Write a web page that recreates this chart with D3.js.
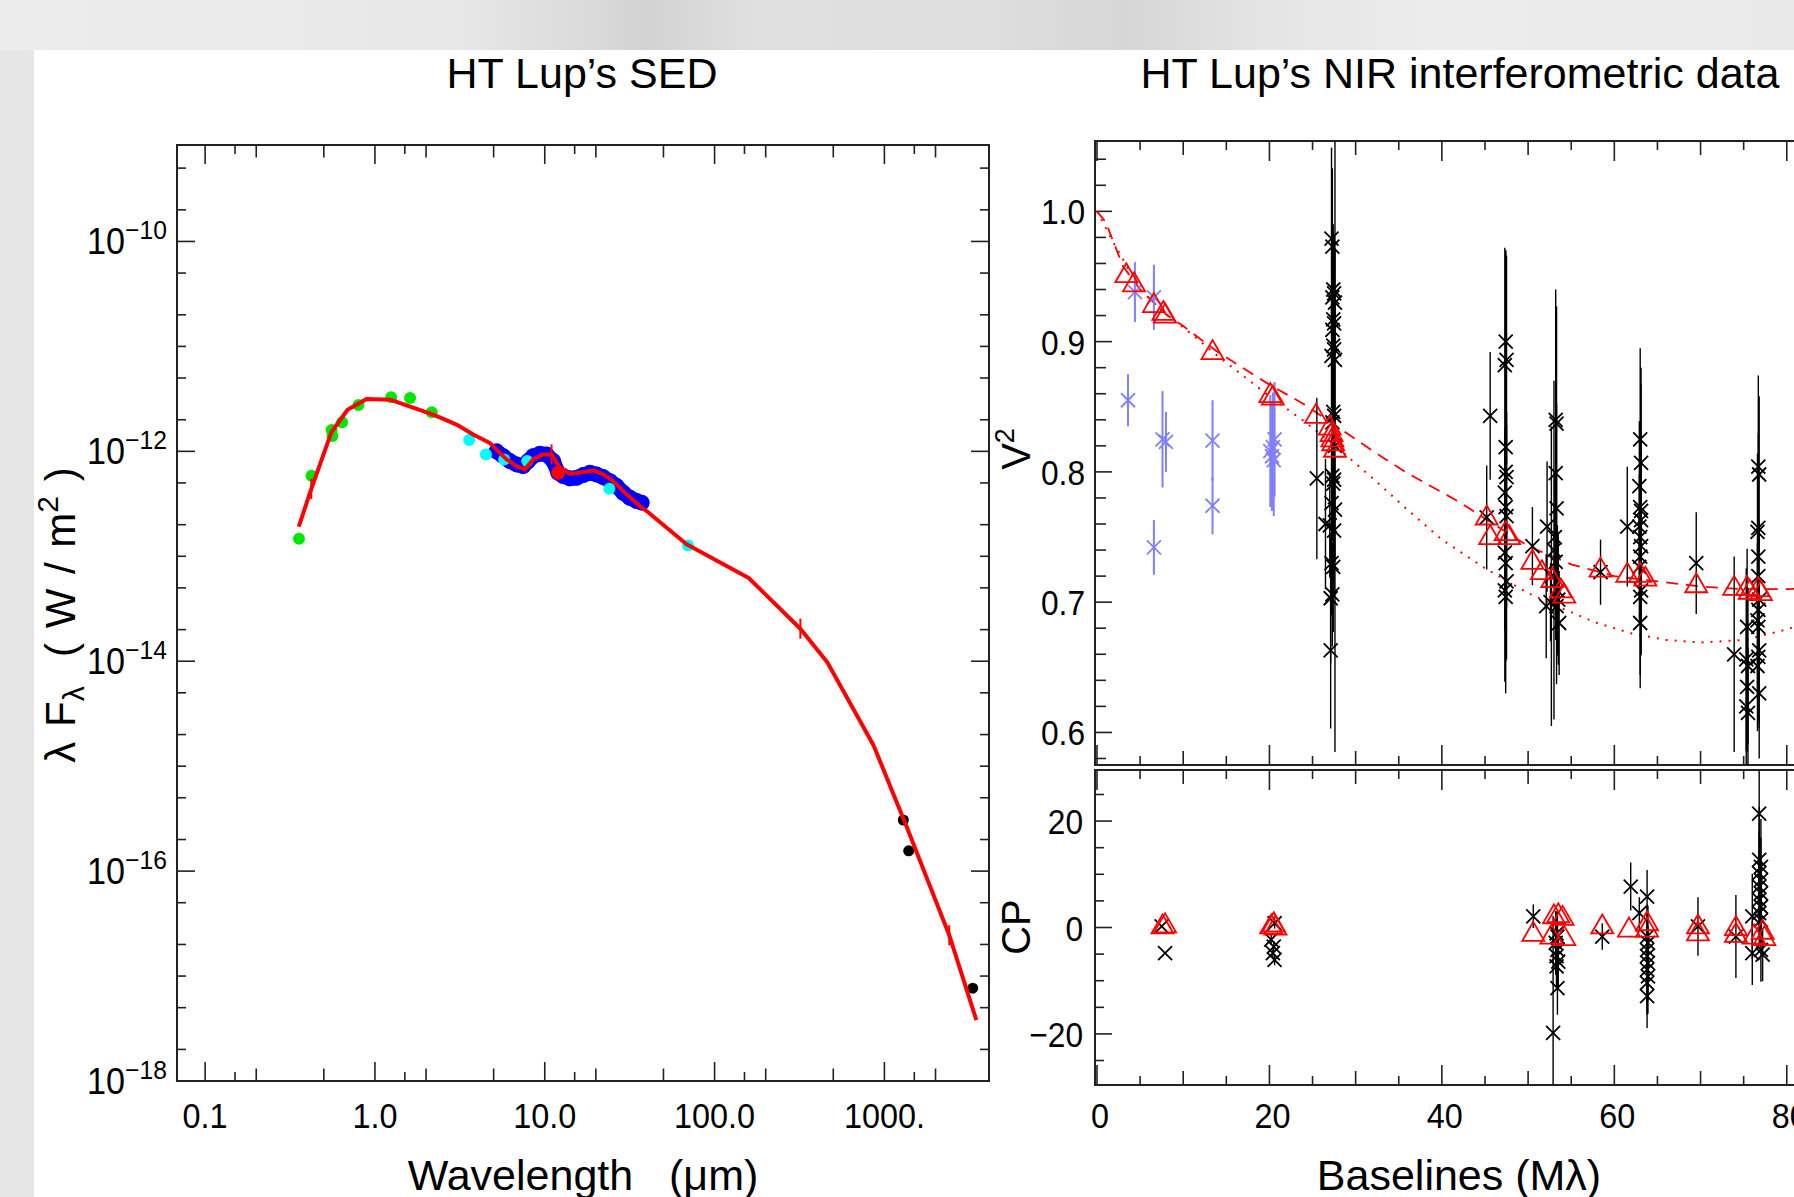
<!DOCTYPE html>
<html>
<head>
<meta charset="utf-8">
<script src="https://cdn.jsdelivr.net/npm/d3@7"></script>
<style>
  html, body { margin: 0; padding: 0; background: #e5e5e5; overflow: hidden; }
  svg { display: block; }
  svg text { font-family: "Liberation Sans", Arial, Helvetica, sans-serif; fill: #000; white-space: pre; }
</style>
</head>
<body>
<svg id="fig" width="1794" height="1197"></svg>
<script>
// ---------------- SED data (wavelength in micron, lambda*F_lambda in W/m^2) ----------------
const modelLam  = [0.356, 0.422, 0.555, 0.690, 0.893, 1.24, 2.16, 2.41, 3.02, 3.79, 4.75, 5.08, 5.96, 6.82, 7.64, 8.55, 9.79, 10.96, 12.27, 14.06, 16.11, 19.28, 22.08, 25.3, 30.3, 36.3, 39.8, 68.4, 158.9, 320, 461, 863, 1340, 2410, 3480];
const modelFlux = [1.92e-13, 4.38e-13, 1.53e-12, 2.49e-12, 3.15e-12, 3.10e-12, 2.26e-12, 2.11e-12, 1.80e-12, 1.45e-12, 1.20e-12, 1.08e-12, 8.38e-13, 7.23e-13, 6.73e-13, 8.38e-13, 9.35e-13, 9.35e-13, 6.97e-13, 6.11e-13, 6.25e-13, 6.58e-13, 6.03e-13, 5.20e-13, 3.89e-13, 3.01e-13, 2.70e-13, 1.30e-13, 6.21e-14, 2.04e-14, 9.77e-15, 1.58e-15, 2.75e-16, 2.45e-17, 3.80e-18];
const modelErrLam  = [0.422, 10.96, 320, 2410];
const modelErrFlux = [4.38e-13, 9.35e-13, 2.04e-14, 2.45e-17];
const greenLam  = [0.357, 0.423, 0.555, 0.562, 0.641, 0.80, 1.245, 1.61, 2.16];
const greenFlux = [1.47e-13, 5.86e-13, 1.60e-12, 1.40e-12, 1.89e-12, 2.76e-12, 3.28e-12, 3.22e-12, 2.36e-12];
const cyanLam  = [3.59, 4.50, 5.77, 7.89, 24.0, 69.8];
const cyanFlux = [1.28e-12, 9.33e-13, 8.38e-13, 8.07e-13, 4.40e-13, 1.27e-13];
const irsLam  = [5.20, 5.69, 6.23, 6.82, 7.46, 7.98, 8.54, 9.36, 10.25, 11.21, 12.0, 12.84, 14.05, 15.39, 16.83, 18.44, 20.18, 22.07, 24.2, 26.5, 28.96, 31.7, 34.7, 37.2];
const irsFlux = [1.00e-12, 8.99e-13, 8.07e-13, 7.50e-13, 7.23e-13, 8.07e-13, 8.99e-13, 9.46e-13, 9.33e-13, 8.07e-13, 6.24e-13, 5.81e-13, 5.52e-13, 5.60e-13, 5.94e-13, 6.24e-13, 6.03e-13, 5.68e-13, 5.20e-13, 4.67e-13, 4.03e-13, 3.61e-13, 3.36e-13, 3.24e-13];
const redDotLam = [12.0];
const redDotFlux = [6.24e-13];
const mmLam  = [1292, 1390, 3311];
const mmFlux = [3.07e-16, 1.56e-16, 7.67e-18];

const xTickVals = [0.1, 1, 10, 100, 1000];
const xTickLabels = ["0.1", "1.0", "10.0", "100.0", "1000."];
const yTickVals = [1e-18, 1e-16, 1e-14, 1e-12, 1e-10];
const yTickExp = ["\u221218", "\u221216", "\u221214", "\u221212", "\u221210"];

// ---------------- interferometry data: [baseline (Mlambda), value, error] ----------------
const v2Black = [
  [25.5,0.795,0.062],[26.5,0.760,0.050],
  [27.2,0.979,0.070],[27.3,0.973,0.060],[27.4,0.940,0.050],[27.5,0.937,0.045],[27.3,0.934,0.050],[27.6,0.930,0.040],
  [27.4,0.917,0.050],[27.5,0.914,0.040],[27.3,0.909,0.045],[27.4,0.897,0.050],[27.5,0.894,0.040],[27.2,0.889,0.040],[27.6,0.886,0.050],
  [27.4,0.846,0.060],[27.5,0.843,0.050],[27.3,0.838,0.040],[27.3,0.797,0.050],[27.5,0.794,0.060],[27.4,0.791,0.040],
  [27.2,0.776,0.050],[27.6,0.771,0.040],[27.0,0.759,0.040],[27.5,0.755,0.050],[27.2,0.730,0.040],[27.4,0.727,0.050],
  [27.3,0.706,0.040],[27.1,0.703,0.050],[27.1,0.663,0.060],[27.6,0.820,0.235],
  [45.6,0.843,0.049],[45.2,0.765,0.040],
  [47.4,0.900,0.070],[47.5,0.886,0.080],[47.3,0.882,0.090],[47.4,0.819,0.100],[47.5,0.796,0.050],[47.3,0.784,0.050],[47.4,0.773,0.060],
  [47.5,0.766,0.070],[47.3,0.738,0.060],[47.4,0.730,0.050],[47.5,0.716,0.060],[47.3,0.709,0.070],[47.4,0.704,0.050],[47.4,0.800,0.170],
  [50.5,0.743,0.030],[52.1,0.697,0.040],[52.6,0.700,0.030],[52.2,0.758,0.050],
  [53.2,0.840,0.100],[53.3,0.837,0.090],[53.2,0.799,0.060],[53.3,0.772,0.080],[53.1,0.750,0.050],[53.2,0.731,0.060],
  [53.4,0.709,0.050],[53.5,0.702,0.050],[53.3,0.697,0.060],[53.6,0.684,0.040],[52.7,0.720,0.115],[53.0,0.740,0.130],
  [58.4,0.723,0.025],[61.5,0.758,0.046],
  [63.0,0.825,0.070],[63.1,0.807,0.060],[62.9,0.789,0.050],[63.0,0.773,0.050],[63.1,0.763,0.060],[62.9,0.758,0.040],[63.0,0.750,0.050],
  [63.1,0.743,0.060],[63.0,0.735,0.050],[62.9,0.727,0.040],[63.1,0.709,0.050],[63.0,0.704,0.060],[63.0,0.684,0.050],[63.1,0.770,0.110],
  [69.5,0.730,0.039],[73.9,0.660,0.075],
  [75.4,0.681,0.060],[75.3,0.656,0.070],[75.5,0.651,0.060],[75.4,0.635,0.050],[75.3,0.620,0.060],[75.5,0.615,0.050],
  [76.7,0.804,0.070],[76.8,0.798,0.060],[76.7,0.757,0.050],[76.6,0.754,0.060],[76.7,0.735,0.050],[76.8,0.702,0.060],[76.7,0.694,0.050],
  [76.6,0.686,0.060],[76.7,0.681,0.050],[76.8,0.663,0.060],[76.7,0.658,0.050],[76.6,0.651,0.050],[76.8,0.630,0.050],[76.7,0.720,0.110]
];
const v2Blue = [
  [3.6,0.855,0.020],[4.4,0.938,0.023],[6.6,0.934,0.025],[6.6,0.742,0.021],[7.6,0.825,0.037],[8.0,0.823,0.023],
  [13.4,0.824,0.031],[13.4,0.774,0.022],[20.1,0.816,0.043],[20.3,0.812,0.042],[20.5,0.809,0.043],[20.6,0.825,0.044],[20.4,0.819,0.042]
];
const v2Model = [
  [3.4,0.951],[4.3,0.944],[6.6,0.928],[7.7,0.922],[7.9,0.920],[13.4,0.892],[20.1,0.859],[20.4,0.857],[25.4,0.843],
  [27.0,0.834],[27.2,0.829],[27.3,0.825],[27.4,0.822],[27.6,0.817],[45.2,0.765],[45.6,0.750],[47.4,0.753],[47.8,0.750],
  [50.5,0.731],[51.6,0.723],[52.8,0.717],[53.8,0.709],[54.2,0.705],[58.4,0.725],[61.5,0.721],[63.0,0.721],[63.6,0.718],
  [69.5,0.713],[73.9,0.711],[75.4,0.711],[75.7,0.708],[76.7,0.710],[77.0,0.707]
];
const v2CurveDashed = [[0,1.0],[1,0.992],[2,0.975],[3,0.958],[5,0.940],[8,0.921],[10,0.912],[14,0.892],[20,0.867],[24,0.852],[28,0.834],[32,0.816],[36,0.799],[42,0.777],[46,0.760],[50,0.743],[55,0.729],[60,0.720],[65,0.716],[70,0.712],[75,0.710],[80,0.710],[90,0.712]];
const v2CurveDotted = [[0,1.0],[2,0.975],[5,0.940],[8,0.921],[10,0.911],[14,0.889],[20,0.858],[24,0.839],[28,0.818],[32,0.795],[36,0.771],[40,0.748],[45,0.726],[50,0.707],[54,0.695],[58,0.684],[62,0.676],[66,0.671],[70,0.669],[75,0.671],[80,0.679],[85,0.690]];
const cpModel = [
  [7.6,0.2],[7.9,0.4],[20.2,0.2],[20.5,0.6],[20.7,0.0],[50.6,-1.2],[52.7,-1.7],[53.0,2.1],[53.5,2.3],[54.0,1.8],[54.2,-2.0],
  [58.6,0.2],[61.7,-0.4],[63.8,0.8],[63.8,-0.4],[69.7,0.2],[69.7,-1.1],[74.1,-0.1],[74.1,-1.4],[76.2,-1.7],[77.2,-0.8],[77.4,-2.0]
];
const cpBlack = [
  [7.5,0.2,0],[7.9,-4.8,0],[20.6,0.8,1],[20.2,-2.3,1],[20.5,-3.6,1],[20.4,-4.8,1],[20.6,-6.1,1],
  [50.6,2.1,2.2],[52.9,-19.8,22],[53.3,-1.1,4],[53.4,-1.7,5],[53.2,-2.9,6],[53.4,-4.2,5],[53.3,-5.4,6],[53.5,-6.4,5],[53.3,-7.3,4],[53.4,-11.4,5],
  [58.6,-1.7,2.5],[61.9,7.7,4.5],[62.9,2.7,3],
  [63.8,5.8,5],[63.8,-1.7,6],[63.9,-2.9,7],[63.8,-4.2,7],[63.8,-5.4,8],[63.9,-6.7,7],[63.8,-7.9,8],[63.9,-9.2,7],[63.8,-10.4,6],[63.8,-12.9,6],
  [69.7,0.2,5.5],[74.1,-1.7,7.8],[76.0,2.1,8],[76.0,-4.8,6],
  [76.8,21.4,12],[76.8,12.7,10],[77.0,11.4,9],[76.8,10.2,8],[77.0,8.9,8],[76.8,7.7,7],[77.0,6.4,6],[76.8,5.2,7],[77.0,3.9,6],[76.8,2.7,6],[77.0,1.4,5],[77.0,-4.2,6],[77.2,-5.1,5]
];
const v2TickLabels = ["0.6", "0.7", "0.8", "0.9", "1.0"];
const cpTickVals = [-20, 0, 20];
const cpTickLabels = ["\u221220", "0", "20"];
const bTickVals = [0, 20, 40, 60, 80];

// ---------------- page set-up ----------------
const svg = d3.select("#fig");
const ink = "#222";
const defs = svg.append("defs");

const bg = defs.append("linearGradient").attr("id", "bgTop");
[[0, "#ececec"], [0.25, "#e8e8e8"], [0.33, "#dadada"], [0.36, "#d2d2d2"], [0.42, "#e0e0e0"], [0.55, "#dedede"],
 [0.63, "#d6d6d6"], [0.7, "#e4e4e4"], [0.8, "#ececec"], [1, "#e9e9e9"]]
  .forEach(s => bg.append("stop").attr("offset", s[0]).attr("stop-color", s[1]));
svg.append("rect").attr("width", 1794).attr("height", 1197).attr("fill", "#e6e6e6");
svg.append("rect").attr("width", 1794).attr("height", 50).attr("fill", "url(#bgTop)");
svg.append("rect").attr("x", 34).attr("y", 50).attr("width", 1760).attr("height", 1147).attr("fill", "#fff");

function clip(id, x, y, w, h) {
  defs.append("clipPath").attr("id", id).append("rect").attr("x", x).attr("y", y).attr("width", w).attr("height", h);
}
function tick(g, x1, y1, x2, y2) {
  g.append("line").attr("x1", x1).attr("y1", y1).attr("x2", x2).attr("y2", y2)
    .attr("stroke", ink).attr("stroke-width", 1.6);
}
function label(x, y, str, size, anchor, sx) {
  return svg.append("text").attr("transform", `translate(${x},${y}) scale(${sx},1)`)
    .attr("text-anchor", anchor).attr("font-size", size).text(str);
}

// ---------------- left panel : SED ----------------
const sed = {left: 177, right: 989, top: 145, bottom: 1081};
const xSed = d3.scaleLog().domain([0.0683, 4130]).range([sed.left, sed.right]);
const ySed = d3.scaleLog().domain([1e-18, 8.3e-10]).range([sed.bottom, sed.top]);
clip("clipSed", sed.left, sed.top, sed.right - sed.left, sed.bottom - sed.top);

const sedAxes = svg.append("g");
const xMinor = [];
xTickVals.forEach(d => [1.5, 2, 5].forEach(m => { if (d * m < 4130) xMinor.push([d * m, m === 1.5 ? 9 : 12.5]); }));
xTickVals.forEach(d => xMinor.push([d, 19]));
xMinor.forEach(([v, len]) => {
  const x = xSed(v);
  tick(sedAxes, x, sed.bottom, x, sed.bottom - len);
  tick(sedAxes, x, sed.top, x, sed.top + len);
});
const yMinor = [];
for (let e = -18; e <= -10; e++) {
  [1, 2, 5].forEach(m => {
    const v = m * Math.pow(10, e);
    if (v < 8.3e-10) yMinor.push([v, (m === 1 && e % 2 === 0) ? 18 : 9]);
  });
}
yMinor.forEach(([v, len]) => {
  const y = ySed(v);
  tick(sedAxes, sed.left, y, sed.left + len, y);
  tick(sedAxes, sed.right, y, sed.right - len, y);
});
sedAxes.append("rect").attr("x", sed.left).attr("y", sed.top)
  .attr("width", sed.right - sed.left).attr("height", sed.bottom - sed.top)
  .attr("fill", "none").attr("stroke", ink).attr("stroke-width", 2);

xTickVals.forEach((v, i) => label(xSed(v), 1128, xTickLabels[i], 36, "middle", 0.9));
yTickVals.forEach((v, i) => {
  const t = svg.append("text").attr("transform", `translate(167,${ySed(v) + 13}) scale(0.95,1)`)
    .attr("text-anchor", "end").attr("font-size", 36);
  t.append("tspan").text("10");
  t.append("tspan").attr("font-size", 26).attr("dy", -15).text(yTickExp[i]);
});

const sedMarks = svg.append("g").attr("clip-path", "url(#clipSed)");
const irs = irsLam.map((l, i) => [xSed(l), ySed(irsFlux[i])]);
sedMarks.append("path").attr("d", d3.line()(irs)).attr("fill", "none")
  .attr("stroke", "#0000ff").attr("stroke-width", 15).attr("stroke-linejoin", "round").attr("stroke-linecap", "round");
sedMarks.selectAll(".irs").data(irs).enter().append("circle")
  .attr("cx", d => d[0]).attr("cy", d => d[1]).attr("r", 8).attr("fill", "#0000ff");
function dots(lams, fluxes, color, r) {
  sedMarks.selectAll(null).data(lams).enter().append("circle")
    .attr("cx", d => xSed(d)).attr("cy", (d, i) => ySed(fluxes[i])).attr("r", r).attr("fill", color);
}
dots(cyanLam, cyanFlux, "#00ffff", 6);
dots(greenLam, greenFlux, "#00e600", 6);
dots(mmLam, mmFlux, "#000", 5.5);

const modelLine = d3.line().x(d => xSed(d[0])).y(d => ySed(d[1]));
sedMarks.append("path").attr("d", modelLine(modelLam.map((l, i) => [l, modelFlux[i]])))
  .attr("fill", "none").attr("stroke", "#ff0000").attr("stroke-width", 4).attr("stroke-linejoin", "round");
modelErrLam.forEach((l, i) => {
  const x = xSed(l), y = ySed(modelErrFlux[i]);
  sedMarks.append("line").attr("x1", x).attr("x2", x).attr("y1", y - 10).attr("y2", y + 10)
    .attr("stroke", "#ff0000").attr("stroke-width", 2);
});
dots(redDotLam, redDotFlux, "#ff0000", 7);

label(582, 88, "HT Lup\u2019s SED", 43, "middle", 1);
label(583, 1190, "Wavelength   (\u03bcm)", 43, "middle", 1);
const yTitle = svg.append("text").attr("transform", "translate(75,615) rotate(-90)")
  .attr("text-anchor", "middle").attr("font-size", 42).attr("word-spacing", 3);
yTitle.append("tspan").text("\u03bb F");
yTitle.append("tspan").attr("font-size", 30).attr("dy", 9).text("\u03bb");
yTitle.append("tspan").attr("dy", -9).text("  ( W / m");
yTitle.append("tspan").attr("font-size", 30).attr("dy", -17).text("2");
yTitle.append("tspan").attr("dy", 17).text(" )");

// ---------------- right panels : V2 and closure phase ----------------
const vis = {left: 1095, right: 1873, top: 141, bottom: 765};
const cph = {left: 1095, right: 1873, top: 770, bottom: 1085};
const xB = d3.scaleLinear().domain([-0.23, 90]).range([vis.left, vis.right]);
const yV = d3.scaleLinear().domain([0.575, 1.054]).range([vis.bottom, vis.top]);
const yC = d3.scaleLinear().domain([-29.6, 29.6]).range([cph.bottom, cph.top]);
clip("clipVis", vis.left, vis.top, vis.right - vis.left, vis.bottom - vis.top);
clip("clipCp", cph.left, cph.top, cph.right - cph.left, cph.bottom - cph.top);

const rAxes = svg.append("g");
for (let b = 0; b <= 90; b += 5) {
  const x = xB(b), len = b % 20 === 0 ? 20 : (b % 10 === 0 ? 14 : 9);
  [[vis.top, 1], [vis.bottom, -1], [cph.top, 1], [cph.bottom, -1]]
    .forEach(([y0, s]) => tick(rAxes, x, y0, x, y0 + s * len));
}
for (let k = 29; k <= 52; k++) {
  const y = yV(k / 50), len = k % 5 === 0 ? 17 : 11;
  tick(rAxes, vis.left, y, vis.left + len, y);
  tick(rAxes, vis.right, y, vis.right - len, y);
}
for (let c = -25; c <= 25; c += 5) {
  const y = yC(c), len = c % 20 === 0 ? 17 : 9;
  tick(rAxes, cph.left, y, cph.left + len, y);
  tick(rAxes, cph.right, y, cph.right - len, y);
}
[vis, cph].forEach(p => rAxes.append("rect").attr("x", p.left).attr("y", p.top)
  .attr("width", p.right - p.left).attr("height", p.bottom - p.top)
  .attr("fill", "none").attr("stroke", ink).attr("stroke-width", 2));

v2TickLabels.forEach(s => label(1085, yV(+s) + 13, s, 36, "end", 0.88));
cpTickVals.forEach((v, i) => label(1083, yC(v) + 13, cpTickLabels[i], 36, "end", 0.88));
bTickVals.forEach(v => label(xB(v) + 3, 1128, String(v), 36, "middle", 0.9));

const cross = "M-7,-7L7,7M-7,7L7,-7";
const tri = "M0,-12L11,7L-11,7Z";

function errPanel(g, rows, yS, color, bw) {
  g.selectAll(null).data(rows.filter(d => d[2] > 0)).enter().append("line")
    .attr("x1", d => xB(d[0])).attr("x2", d => xB(d[0]))
    .attr("y1", d => yS(d[1] + d[2])).attr("y2", d => yS(d[1] - d[2]))
    .attr("stroke", color).attr("stroke-width", bw);
  g.selectAll(null).data(rows).enter().append("path")
    .attr("d", cross).attr("transform", d => `translate(${xB(d[0])},${yS(d[1])})`)
    .attr("fill", "none").attr("stroke", color).attr("stroke-width", 1.8);
}
function triangles(g, rows, yS) {
  g.selectAll(null).data(rows).enter().append("path")
    .attr("d", tri).attr("transform", d => `translate(${xB(d[0])},${yS(d[1])})`)
    .attr("fill", "none").attr("stroke", "#ff0000").attr("stroke-width", 1.8);
}

const visMarks = svg.append("g").attr("clip-path", "url(#clipVis)");
const curve = d3.line().x(d => xB(d[0])).y(d => yV(d[1]));
visMarks.append("path").attr("d", curve(v2CurveDashed)).attr("fill", "none")
  .attr("stroke", "#ff0000").attr("stroke-width", 1.8).attr("stroke-dasharray", "12,8");
visMarks.append("path").attr("d", curve(v2CurveDotted)).attr("fill", "none")
  .attr("stroke", "#ff0000").attr("stroke-width", 2).attr("stroke-dasharray", "2,7");
errPanel(visMarks, v2Blue, yV, "#8080ff", 2);
errPanel(visMarks, v2Black, yV, "#000", 1.4);
triangles(visMarks, v2Model, yV);

const cpMarks = svg.append("g").attr("clip-path", "url(#clipCp)");
errPanel(cpMarks, cpBlack, yC, "#000", 1.4);
triangles(cpMarks, cpModel, yC);

label(1460, 88, "HT Lup\u2019s NIR interferometric data", 43, "middle", 1);
label(1459, 1190, "Baselines (M\u03bb)", 43, "middle", 1);
const v2Title = svg.append("text").attr("transform", "translate(1030,449) rotate(-90)")
  .attr("text-anchor", "middle").attr("font-size", 40);
v2Title.append("tspan").text("V");
v2Title.append("tspan").attr("font-size", 27).attr("dy", -16).text("2");
svg.append("text").attr("transform", "translate(1030,927) rotate(-90)")
  .attr("text-anchor", "middle").attr("font-size", 40).text("CP");
</script>
</body>
</html>
